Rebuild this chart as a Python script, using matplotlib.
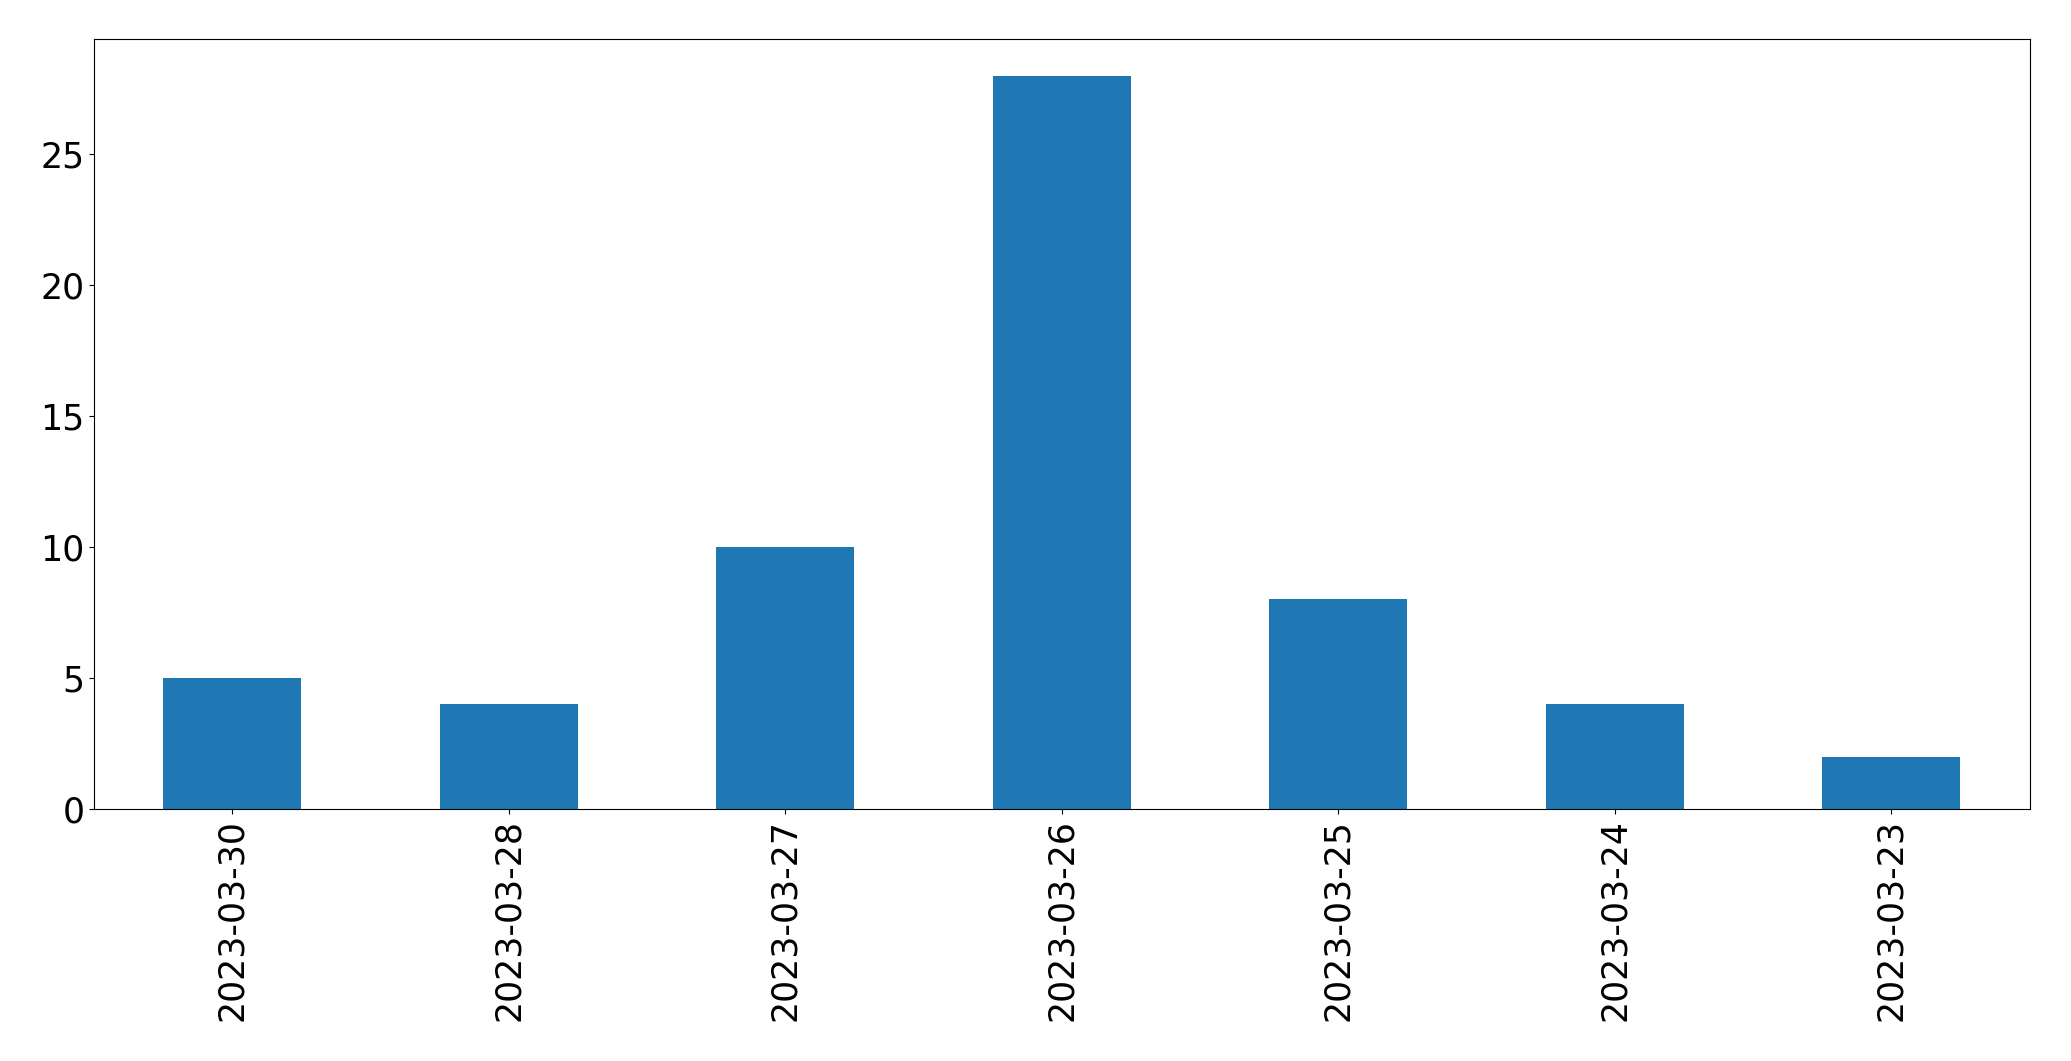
import pandas as pd
import matplotlib
matplotlib.use("Agg")
import matplotlib.pyplot as plt

# data
dates = ["2023-03-30", "2023-03-28", "2023-03-27", "2023-03-26",
         "2023-03-25", "2023-03-24", "2023-03-23"]
counts = [5, 4, 10, 28, 8, 4, 2]

s = pd.Series(counts, index=dates)

fig, ax = plt.subplots(figsize=(20.71, 10.61), dpi=100)
s.plot(kind="bar", ax=ax, fontsize=25, color="#1f77b4")
fig.subplots_adjust(left=0.0454, right=0.980, top=0.9632, bottom=0.2375)

fig.savefig("out.png", dpi=100)
